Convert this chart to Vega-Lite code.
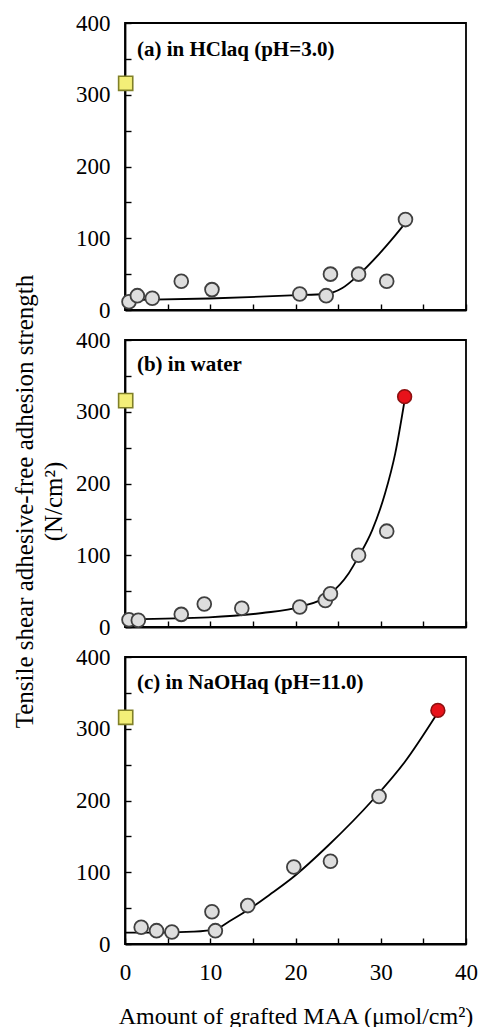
{
  "$schema": "https://vega.github.io/schema/vega-lite/v6.json",
  "background": "white",
  "padding": {"left": 11, "top": 11, "right": 10, "bottom": 5},
  "bounds": "flush",
  "spacing": 30,
  "config": {
    "font": "Liberation Serif",
    "view": {"stroke": "black", "strokeWidth": 1.8},
    "axis": {
      "domainColor": "black", "domainWidth": 1.8,
      "tickColor": "black", "tickWidth": 1.4, "tickSize": -6,
      "labelFont": "Liberation Serif", "labelFontSize": 23, "labelColor": "black",
      "titleFont": "Liberation Serif", "titleFontWeight": "normal", "titleColor": "black",
      "grid": false
    }
  },
  "datasets": {
    "pts": [
      {"panel": "a", "kind": "yellow", "x": 0.08, "y": 316},
      {"panel": "a", "kind": "gray", "x": 0.47, "y": 11.6},
      {"panel": "a", "kind": "gray", "x": 1.45, "y": 20},
      {"panel": "a", "kind": "gray", "x": 3.2, "y": 16.3},
      {"panel": "a", "kind": "gray", "x": 6.6, "y": 40},
      {"panel": "a", "kind": "gray", "x": 10.2, "y": 28.4},
      {"panel": "a", "kind": "gray", "x": 20.5, "y": 22.3},
      {"panel": "a", "kind": "gray", "x": 23.6, "y": 20},
      {"panel": "a", "kind": "gray", "x": 24.1, "y": 50},
      {"panel": "a", "kind": "gray", "x": 27.4, "y": 50},
      {"panel": "a", "kind": "gray", "x": 30.7, "y": 40},
      {"panel": "a", "kind": "gray", "x": 32.9, "y": 126},
      {"panel": "a", "kind": "curve", "x": 1.6, "y": 14},
      {"panel": "a", "kind": "curve", "x": 9.9, "y": 16},
      {"panel": "a", "kind": "curve", "x": 20, "y": 20.5},
      {"panel": "a", "kind": "curve", "x": 23.5, "y": 22.3},
      {"panel": "a", "kind": "curve", "x": 25.5, "y": 30.7},
      {"panel": "a", "kind": "curve", "x": 27.4, "y": 49},
      {"panel": "a", "kind": "curve", "x": 29.8, "y": 78},
      {"panel": "a", "kind": "curve", "x": 31.7, "y": 104},
      {"panel": "a", "kind": "curve", "x": 32.8, "y": 120},
      {"panel": "a", "kind": "label", "x": 1.4, "y": 362, "text": "(a) in HClaq (pH=3.0)"},

      {"panel": "b", "kind": "yellow", "x": 0.08, "y": 315.5},
      {"panel": "b", "kind": "gray", "x": 0.47, "y": 10.2},
      {"panel": "b", "kind": "gray", "x": 1.56, "y": 9.3},
      {"panel": "b", "kind": "gray", "x": 6.6, "y": 17.6},
      {"panel": "b", "kind": "gray", "x": 9.3, "y": 32},
      {"panel": "b", "kind": "gray", "x": 13.7, "y": 26},
      {"panel": "b", "kind": "gray", "x": 20.5, "y": 27.8},
      {"panel": "b", "kind": "gray", "x": 23.5, "y": 37},
      {"panel": "b", "kind": "gray", "x": 24.1, "y": 46.4},
      {"panel": "b", "kind": "gray", "x": 27.4, "y": 100},
      {"panel": "b", "kind": "gray", "x": 30.7, "y": 133.6},
      {"panel": "b", "kind": "red", "x": 32.8, "y": 321},
      {"panel": "b", "kind": "curve", "x": 0.5, "y": 11},
      {"panel": "b", "kind": "curve", "x": 9.8, "y": 13.5},
      {"panel": "b", "kind": "curve", "x": 16.1, "y": 19.5},
      {"panel": "b", "kind": "curve", "x": 20.5, "y": 28},
      {"panel": "b", "kind": "curve", "x": 23.9, "y": 44.7},
      {"panel": "b", "kind": "curve", "x": 26.25, "y": 75},
      {"panel": "b", "kind": "curve", "x": 27.4, "y": 98},
      {"panel": "b", "kind": "curve", "x": 29, "y": 135},
      {"panel": "b", "kind": "curve", "x": 30.5, "y": 186},
      {"panel": "b", "kind": "curve", "x": 31.7, "y": 242},
      {"panel": "b", "kind": "curve", "x": 32.8, "y": 316},
      {"panel": "b", "kind": "label", "x": 1.4, "y": 365, "text": "(b) in water"},

      {"panel": "c", "kind": "yellow", "x": 0.08, "y": 316},
      {"panel": "c", "kind": "gray", "x": 1.9, "y": 23.3},
      {"panel": "c", "kind": "gray", "x": 3.7, "y": 18.6},
      {"panel": "c", "kind": "gray", "x": 5.5, "y": 16.7},
      {"panel": "c", "kind": "gray", "x": 10.2, "y": 45},
      {"panel": "c", "kind": "gray", "x": 10.6, "y": 18.6},
      {"panel": "c", "kind": "gray", "x": 14.4, "y": 53.5},
      {"panel": "c", "kind": "gray", "x": 19.8, "y": 107.4},
      {"panel": "c", "kind": "gray", "x": 24.1, "y": 115.3},
      {"panel": "c", "kind": "gray", "x": 29.8, "y": 205.6},
      {"panel": "c", "kind": "red", "x": 36.7, "y": 325.6},
      {"panel": "c", "kind": "curve", "x": 0, "y": 15.8},
      {"panel": "c", "kind": "curve", "x": 4.4, "y": 16},
      {"panel": "c", "kind": "curve", "x": 8, "y": 17.2},
      {"panel": "c", "kind": "curve", "x": 10.6, "y": 20.5},
      {"panel": "c", "kind": "curve", "x": 12.3, "y": 32},
      {"panel": "c", "kind": "curve", "x": 14.5, "y": 48},
      {"panel": "c", "kind": "curve", "x": 17, "y": 69},
      {"panel": "c", "kind": "curve", "x": 19.6, "y": 92},
      {"panel": "c", "kind": "curve", "x": 23.9, "y": 138},
      {"panel": "c", "kind": "curve", "x": 29, "y": 200},
      {"panel": "c", "kind": "curve", "x": 32.9, "y": 255},
      {"panel": "c", "kind": "curve", "x": 36.4, "y": 317},
      {"panel": "c", "kind": "label", "x": 1.4, "y": 364, "text": "(c) in NaOHaq (pH=11.0)"}
    ]
  },
  "vconcat": [
    {
      "width": 341, "height": 287,
      "data": {"name": "pts"},
      "transform": [{"filter": "datum.panel == 'a'"}],
      "encoding": {
        "x": {"field": "x", "type": "quantitative", "scale": {"domain": [0, 40], "nice": false},
              "axis": {"values": [0, 5, 10, 15, 20, 25, 30, 35, 40], "labels": false, "title": null}},
        "y": {"field": "y", "type": "quantitative", "scale": {"domain": [0, 400], "nice": false},
              "axis": {"values": [0, 50, 100, 150, 200, 250, 300, 350, 400], "labelExpr": "datum.value % 100 == 0 ? datum.label : ''", "labelPadding": 21, "title": null}}
      },
      "layer": [
        {"transform": [{"filter": "datum.kind == 'curve'"}], "mark": {"type": "line", "color": "black", "strokeWidth": 1.8, "interpolate": "monotone"}},
        {"transform": [{"filter": "datum.kind == 'gray'"}], "mark": {"type": "point", "shape": "circle", "filled": true, "size": 190, "fill": "#dedede", "stroke": "#404040", "strokeWidth": 1.8, "opacity": 1}},
        {"transform": [{"filter": "datum.kind == 'red'"}], "mark": {"type": "point", "shape": "circle", "filled": true, "size": 190, "fill": "#e8121a", "stroke": "#8c1010", "strokeWidth": 1.6, "opacity": 1}},
        {"transform": [{"filter": "datum.kind == 'yellow'"}], "mark": {"type": "point", "shape": "square", "filled": true, "size": 200, "fill": "#f3ef78", "stroke": "#808028", "strokeWidth": 1.6, "opacity": 1}},
        {"transform": [{"filter": "datum.kind == 'label'"}], "mark": {"type": "text", "align": "left", "baseline": "middle", "font": "Liberation Serif", "fontWeight": "bold", "fontSize": 21, "color": "black"}, "encoding": {"text": {"field": "text"}}}
      ]
    },
    {
      "width": 341, "height": 287,
      "data": {"name": "pts"},
      "transform": [{"filter": "datum.panel == 'b'"}],
      "encoding": {
        "x": {"field": "x", "type": "quantitative", "scale": {"domain": [0, 40], "nice": false},
              "axis": {"values": [0, 5, 10, 15, 20, 25, 30, 35, 40], "labels": false, "title": null}},
        "y": {"field": "y", "type": "quantitative", "scale": {"domain": [0, 400], "nice": false},
              "axis": {"values": [0, 50, 100, 150, 200, 250, 300, 350, 400], "labelExpr": "datum.value % 100 == 0 ? datum.label : ''", "labelPadding": 21,
                       "title": ["Tensile shear adhesive-free adhesion strength", "(N/cm²)"], "titleFontSize": 25, "titleLineHeight": 29, "titlePadding": 9, "titleY": 161}}
      },
      "layer": [
        {"transform": [{"filter": "datum.kind == 'curve'"}], "mark": {"type": "line", "color": "black", "strokeWidth": 1.8, "interpolate": "monotone"}},
        {"transform": [{"filter": "datum.kind == 'gray'"}], "mark": {"type": "point", "shape": "circle", "filled": true, "size": 190, "fill": "#dedede", "stroke": "#404040", "strokeWidth": 1.8, "opacity": 1}},
        {"transform": [{"filter": "datum.kind == 'red'"}], "mark": {"type": "point", "shape": "circle", "filled": true, "size": 190, "fill": "#e8121a", "stroke": "#8c1010", "strokeWidth": 1.6, "opacity": 1}},
        {"transform": [{"filter": "datum.kind == 'yellow'"}], "mark": {"type": "point", "shape": "square", "filled": true, "size": 200, "fill": "#f3ef78", "stroke": "#808028", "strokeWidth": 1.6, "opacity": 1}},
        {"transform": [{"filter": "datum.kind == 'label'"}], "mark": {"type": "text", "align": "left", "baseline": "middle", "font": "Liberation Serif", "fontWeight": "bold", "fontSize": 21, "color": "black"}, "encoding": {"text": {"field": "text"}}}
      ]
    },
    {
      "width": 341, "height": 287,
      "data": {"name": "pts"},
      "transform": [{"filter": "datum.panel == 'c'"}],
      "encoding": {
        "x": {"field": "x", "type": "quantitative", "scale": {"domain": [0, 40], "nice": false},
              "axis": {"values": [0, 5, 10, 15, 20, 25, 30, 35, 40], "labelExpr": "datum.value % 10 == 0 ? datum.label : ''", "labelPadding": 23, "labelFlush": false,
                       "title": "Amount of grafted MAA (μmol/cm²)", "titleFontSize": 24, "titlePadding": 20}},
        "y": {"field": "y", "type": "quantitative", "scale": {"domain": [0, 400], "nice": false},
              "axis": {"values": [0, 50, 100, 150, 200, 250, 300, 350, 400], "labelExpr": "datum.value % 100 == 0 ? datum.label : ''", "labelPadding": 21, "title": null}}
      },
      "layer": [
        {"transform": [{"filter": "datum.kind == 'curve'"}], "mark": {"type": "line", "color": "black", "strokeWidth": 1.8, "interpolate": "monotone"}},
        {"transform": [{"filter": "datum.kind == 'gray'"}], "mark": {"type": "point", "shape": "circle", "filled": true, "size": 190, "fill": "#dedede", "stroke": "#404040", "strokeWidth": 1.8, "opacity": 1}},
        {"transform": [{"filter": "datum.kind == 'red'"}], "mark": {"type": "point", "shape": "circle", "filled": true, "size": 190, "fill": "#e8121a", "stroke": "#8c1010", "strokeWidth": 1.6, "opacity": 1}},
        {"transform": [{"filter": "datum.kind == 'yellow'"}], "mark": {"type": "point", "shape": "square", "filled": true, "size": 200, "fill": "#f3ef78", "stroke": "#808028", "strokeWidth": 1.6, "opacity": 1}},
        {"transform": [{"filter": "datum.kind == 'label'"}], "mark": {"type": "text", "align": "left", "baseline": "middle", "font": "Liberation Serif", "fontWeight": "bold", "fontSize": 21, "color": "black"}, "encoding": {"text": {"field": "text"}}}
      ]
    }
  ]
}
